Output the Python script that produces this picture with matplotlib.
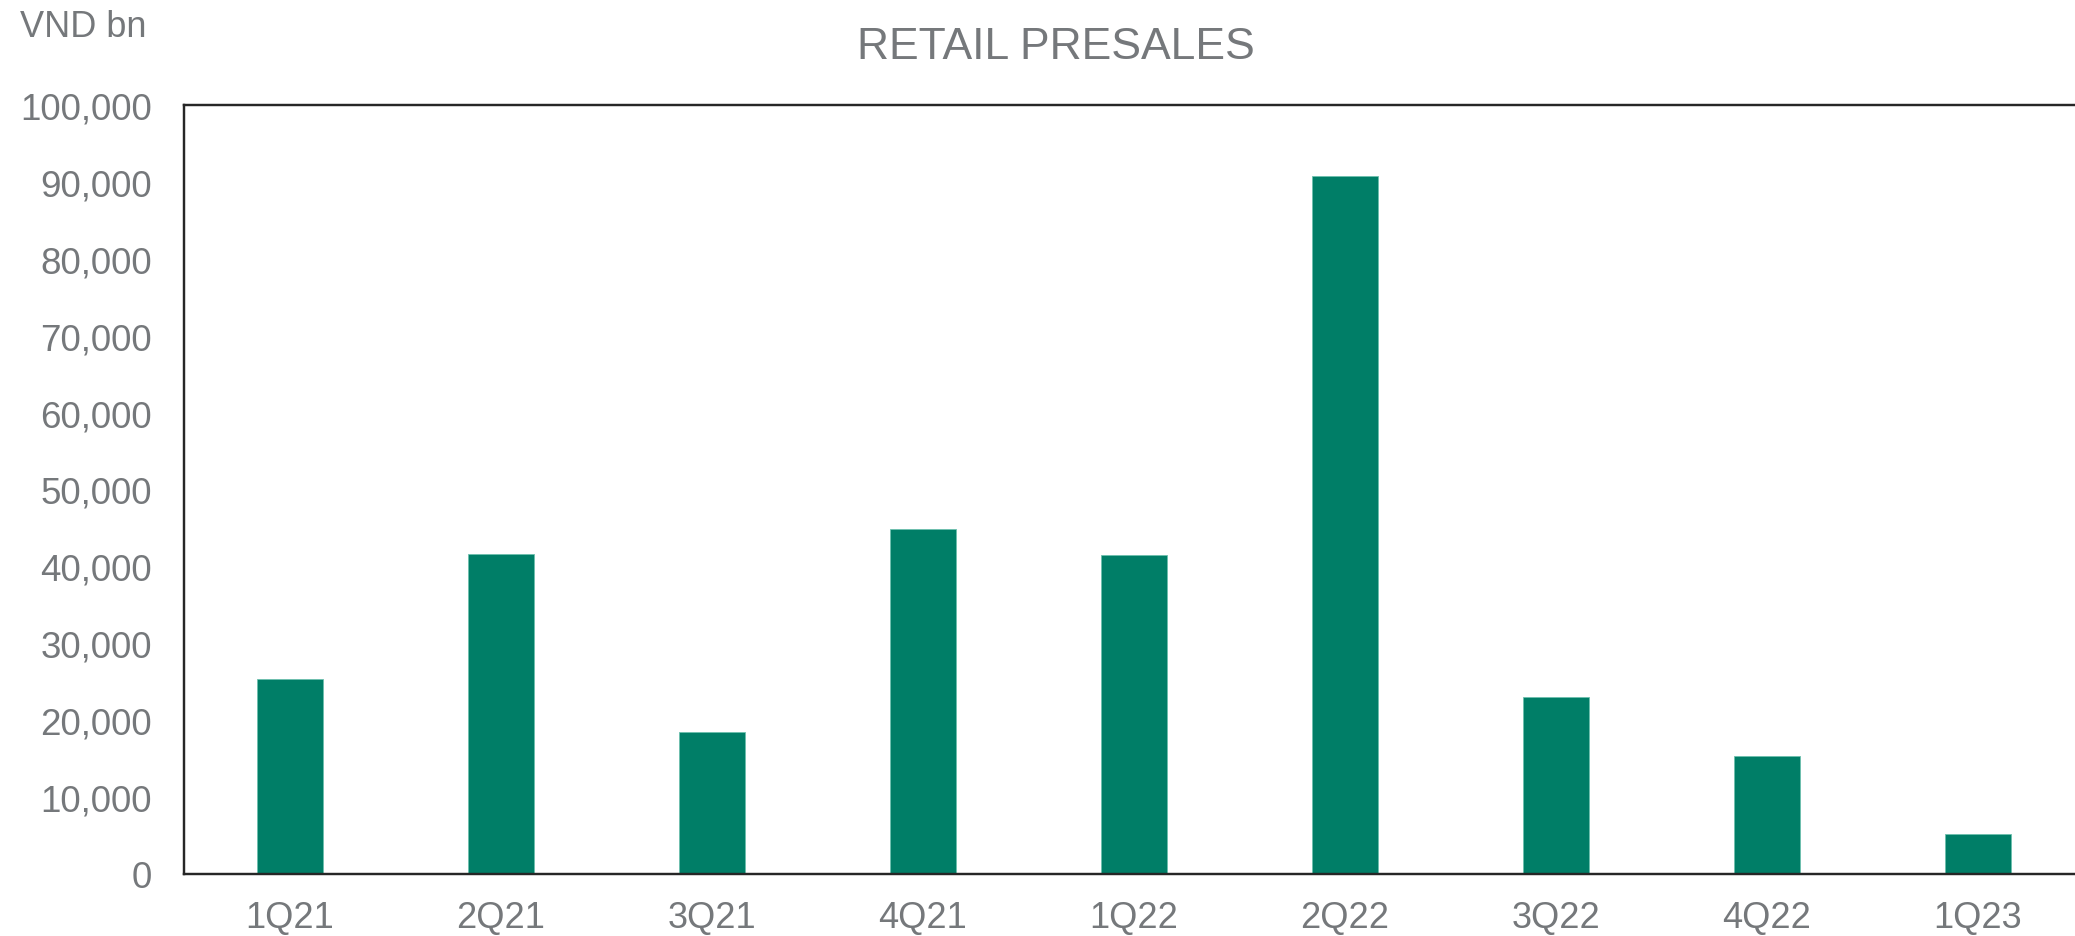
import matplotlib.pyplot as plt
from matplotlib.ticker import FuncFormatter

plt.rcParams['font.family'] = ['Liberation Sans', 'DejaVu Sans']

# Retail presales by quarter (VND bn)
quarters = ['1Q21', '2Q21', '3Q21', '4Q21', '1Q22', '2Q22', '3Q22', '4Q22', '1Q23']
presales = [25400, 41600, 18500, 44800, 41500, 90800, 23000, 15300, 5100]

bar_color = '#007e67'
text_color = '#75787b'

fig = plt.figure(figsize=(20.75, 9.37), dpi=100)
ax = fig.add_axes([0.0887, 0.0665, 0.9152, 0.8201])

x = range(len(quarters))
ax.bar(x, presales, width=0.313, color=bar_color, edgecolor='#6cc0ae', linewidth=0.6)

ax.set_xlim(-0.5, len(quarters) - 0.5)
ax.set_ylim(0, 100000)
ax.set_yticks(range(0, 100001, 10000))
ax.yaxis.set_major_formatter(FuncFormatter(lambda v, p: f'{int(v):,}'))
ax.set_xticks(list(x))
ax.set_xticklabels(quarters)

ax.tick_params(axis='both', length=0, colors=text_color)
ax.tick_params(axis='y', pad=23, labelsize=26.5)
ax.tick_params(axis='x', pad=19, labelsize=26)

for side in ['left', 'top', 'bottom']:
    ax.spines[side].set_color('#262626')
    ax.spines[side].set_linewidth(1.75)
ax.spines['right'].set_visible(False)

fig.text(0.509, 0.937, 'RETAIL PRESALES', ha='center', va='baseline',
         fontsize=32, color=text_color)
fig.text(0.0096, 0.9605, 'VND bn', ha='left', va='baseline',
         fontsize=26, color=text_color)

fig.savefig('out.png', dpi=100)
